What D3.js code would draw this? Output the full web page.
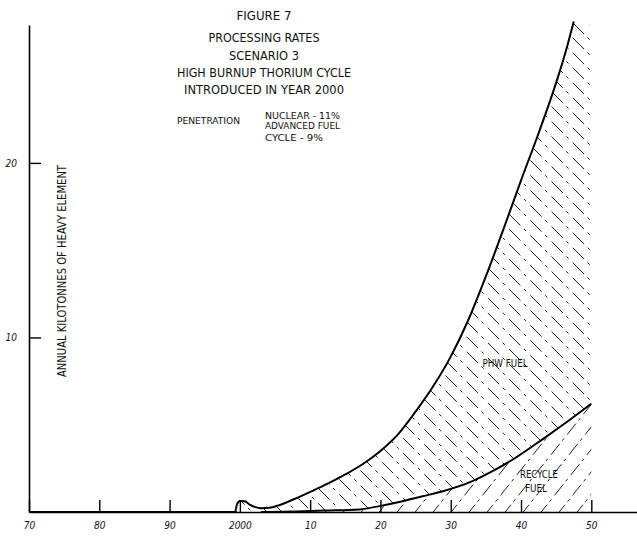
<!DOCTYPE html>
<html>
<head>
<meta charset="utf-8">
<script src="https://cdn.jsdelivr.net/npm/d3@7"></script>
<style>
  html, body { margin: 0; padding: 0; background: #fff; }
  svg { display: block; }
  text { font-family: "Liberation Sans Narrow", "DejaVu Sans Condensed", "Open Sans", sans-serif; fill: #111; }
</style>
</head>
<body>
<script>
// ---- data ----
const xTickYears = [1970, 1980, 1990, 2000, 2010, 2020, 2030, 2040, 2050];
const xTickLabels = ["70", "80", "90", "2000", "10", "20", "30", "40", "50"];
const yTickValues = [10, 20];
const yTickLabels = ["10", "20"];

// total processing (upper curve), kilotonnes HE per year
const totalYears  = [1970, 1999.3, 1999.6, 2000.0, 2000.7, 2001.4, 2002.2, 2003.0, 2004.2, 2005.5, 2007.5, 2010, 2012.5, 2015, 2017.5, 2020, 2022.5, 2025, 2027.5, 2030, 2032.5, 2035, 2037.5, 2040, 2042.5, 2045, 2046.3, 2047.5];
const totalValues = [0, 0, 0.45, 0.63, 0.62, 0.42, 0.28, 0.22, 0.24, 0.38, 0.7, 1.15, 1.62, 2.15, 2.75, 3.5, 4.45, 5.75, 7.2, 8.9, 11.0, 13.5, 16.2, 19.0, 21.7, 24.6, 26.3, 28.1];

// recycle fuel (lower curve)
const recycleYears  = [2003, 2008, 2012, 2017, 2020, 2023, 2026, 2029, 2033, 2036, 2039, 2043, 2047, 2050];
const recycleValues = [0, 0.03, 0.08, 0.15, 0.35, 0.6, 0.9, 1.2, 1.75, 2.35, 3.05, 4.15, 5.3, 6.2];

const titleLines = ["FIGURE 7", "PROCESSING RATES", "SCENARIO 3", "HIGH BURNUP THORIUM CYCLE", "INTRODUCED IN YEAR 2000"];
const penetrationLabel = "PENETRATION";
const penetrationLines = ["NUCLEAR - 11%", "ADVANCED FUEL", "CYCLE - 9%"];
const yAxisTitle = "ANNUAL KILOTONNES OF HEAVY ELEMENT";
const areaLabels = { phw: ["PHW FUEL"], recycle: ["RECYCLE", "FUEL"] };

// ---- layout ----
const W = 637, H = 536;
const svg = d3.select("body").append("svg").attr("width", W).attr("height", H);

const x = d3.scaleLinear().domain([1970, 2056.5]).range([29, 637]);
const y = d3.scaleLinear().domain([0, 27.9]).range([512, 25]);

const total = totalYears.map((t, i) => ({ t, v: totalValues[i] }));
const recycle = recycleYears.map((t, i) => ({ t, v: recycleValues[i] }));

const lineGen = d3.line().x(d => x(d.t)).y(d => y(d.v)).curve(d3.curveMonotoneX);

// ---- hatched regions ----
const defs = svg.append("defs");
const rightYear = 2050;
// PHW region: between recycle curve and total curve, bounded at 2050
const phwPath = lineGen(total.filter(d => d.t >= 1999.3)) +
  "L" + x(rightYear) + "," + y(27.9) +
  "L" + x(rightYear) + "," + y(recycleValues[recycleValues.length - 1]) +
  lineGen(recycle.slice().reverse()).replace(/^M/, "L") + "Z";
defs.append("clipPath").attr("id", "clipPhw").append("path").attr("d", phwPath);

const recyclePath = lineGen(recycle) +
  "L" + x(rightYear) + "," + y(0) + "L" + x(recycleYears[0]) + "," + y(0) + "Z";
defs.append("clipPath").attr("id", "clipRec").append("path").attr("d", recyclePath);

// "\" hatch for PHW fuel
const gPhw = svg.append("g").attr("clip-path", "url(#clipPhw)");
for (let c = -700; c < 700; c += 15) {
  gPhw.append("line")
    .attr("x1", 0).attr("y1", c).attr("x2", W).attr("y2", c + W)
    .attr("stroke", "#222").attr("stroke-width", 1)
    .attr("stroke-dasharray", "16 5 3 6");
}
// "/" hatch for recycle fuel (slightly steeper)
const gRec = svg.append("g").attr("clip-path", "url(#clipRec)");
for (let c = 0; c < 1000; c += 18) {
  gRec.append("line")
    .attr("x1", c).attr("y1", H).attr("x2", c + 400).attr("y2", H - 500)
    .attr("stroke", "#222").attr("stroke-width", 1)
    .attr("stroke-dasharray", "14 4 3 5");
}

// ---- curves ----
svg.append("path").attr("d", lineGen(total))
  .attr("fill", "none").attr("stroke", "#000").attr("stroke-width", 2);
svg.append("path").attr("d", lineGen(recycle))
  .attr("fill", "none").attr("stroke", "#000").attr("stroke-width", 2);

// ---- axes ----
const xAxis = d3.axisBottom(x).tickValues(xTickYears)
  .tickFormat((d, i) => xTickLabels[i]).tickSizeInner(-12).tickSizeOuter(0).tickPadding(10);
const gx = svg.append("g").attr("transform", `translate(0,${y(0)})`).call(xAxis);
gx.select(".domain").attr("stroke", "#000").attr("stroke-width", 1.6);
gx.selectAll(".tick line").attr("stroke", "#000").attr("stroke-width", 1.4);
gx.selectAll(".tick text").attr("font-size", 10).attr("font-style", "italic")
  .attr("font-family", "\"DejaVu Sans Condensed\", \"Liberation Sans Narrow\", sans-serif");

const yAxis = d3.axisLeft(y).tickValues(yTickValues)
  .tickFormat((d, i) => yTickLabels[i]).tickSizeInner(-12).tickSizeOuter(0).tickPadding(12);
const gy = svg.append("g").attr("transform", `translate(${x(1970)},0)`).call(yAxis);
gy.select(".domain").attr("stroke", "#000").attr("stroke-width", 1.6);
gy.selectAll(".tick line").attr("stroke", "#000").attr("stroke-width", 1.4);
gy.selectAll(".tick text").attr("font-size", 10).attr("font-style", "italic")
  .attr("font-family", "\"DejaVu Sans Condensed\", \"Liberation Sans Narrow\", sans-serif");

// ---- y axis title ----
svg.append("text")
  .attr("transform", "translate(66,271) rotate(-90)")
  .attr("text-anchor", "middle")
  .attr("font-size", 12)
  .attr("textLength", 212).attr("lengthAdjust", "spacingAndGlyphs")
  .text(yAxisTitle);

// ---- title block ----
const titleY = [20, 42, 60, 77, 94];
const titleW = [55, 111, 70, 174, 160];
titleLines.forEach((t, i) => {
  svg.append("text")
    .attr("x", 264).attr("y", titleY[i])
    .attr("text-anchor", "middle").attr("font-size", 12.5)
    .attr("textLength", titleW[i]).attr("lengthAdjust", "spacingAndGlyphs")
    .text(t);
});
svg.append("text").attr("x", 177).attr("y", 124).attr("font-size", 9.5)
  .attr("textLength", 63).attr("lengthAdjust", "spacingAndGlyphs").text(penetrationLabel);
const penY = [119, 129, 141];
const penW = [75, 75, 58];
penetrationLines.forEach((t, i) => {
  svg.append("text").attr("x", 265).attr("y", penY[i]).attr("font-size", 9.5)
    .attr("textLength", penW[i]).attr("lengthAdjust", "spacingAndGlyphs").text(t);
});

// ---- region labels ----
svg.append("text").attr("x", 505).attr("y", 367).attr("text-anchor", "middle")
  .attr("font-size", 10).attr("textLength", 45).attr("lengthAdjust", "spacingAndGlyphs")
  .text(areaLabels.phw[0]);
svg.append("text").attr("x", 539).attr("y", 478).attr("text-anchor", "middle")
  .attr("font-size", 10).attr("textLength", 38).attr("lengthAdjust", "spacingAndGlyphs")
  .text(areaLabels.recycle[0]);
svg.append("text").attr("x", 536).attr("y", 492).attr("text-anchor", "middle")
  .attr("font-size", 10).attr("textLength", 22).attr("lengthAdjust", "spacingAndGlyphs")
  .text(areaLabels.recycle[1]);
</script>
</body>
</html>
